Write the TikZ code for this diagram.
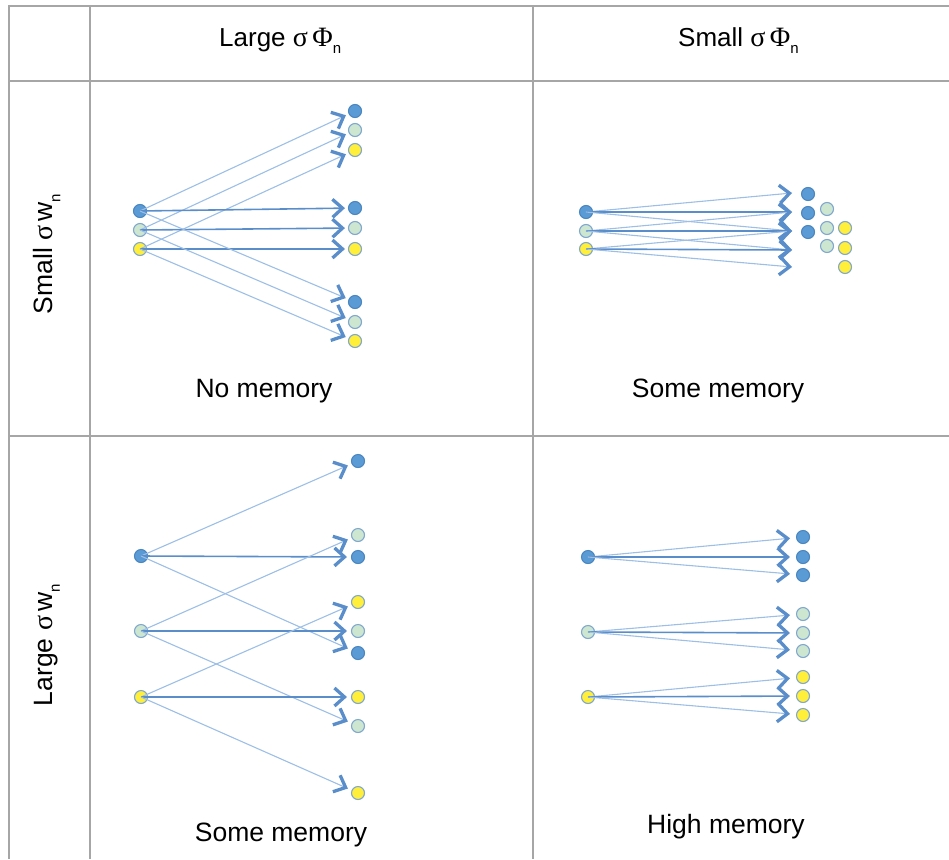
\documentclass[tikz,border=0pt]{standalone}
\usepackage{fontspec}
\setmainfont{Liberation Sans}
\newfontfamily\grk{Liberation Serif}
\usetikzlibrary{arrows.meta}
\definecolor{gridgray}{HTML}{A6A6A6}
\definecolor{dotblue}{HTML}{5B9BD5}
\definecolor{dotedge}{HTML}{4A86C0}
\definecolor{dotgreen}{HTML}{CDE6CF}
\definecolor{dotyellow}{HTML}{FFEE3A}
\definecolor{softedge}{HTML}{7FA7CF}
\definecolor{lineblue}{HTML}{9DBFE6}
\definecolor{arrowblue}{HTML}{5A8ECB}
\newcommand{\sub}[1]{\raisebox{-0.28em}{\fontsize{15}{15}\selectfont #1}}
\tikzset{
  gridline/.style={draw=gridgray, line width=2pt},
  dotbase/.style={circle, minimum size=13pt, inner sep=0pt, line width=1.1pt},
  dotb/.style={dotbase, fill=dotblue, draw=dotedge},
  dotg/.style={dotbase, fill=dotgreen, draw=softedge},
  doty/.style={dotbase, fill=dotyellow, draw=softedge},
  tipstyle/.style={-{Straight Barb[length=10pt,width=18pt,line width=3.3pt 0,color=arrowblue]}},
  diag/.style={tipstyle, draw=lineblue, line width=1.1pt},
  flat/.style={tipstyle, draw=arrowblue, line width=1.6pt},
  lbl/.style={font=\fontsize{26.5}{30}\selectfont, anchor=base, inner sep=0pt},
  hdr/.style={font=\fontsize{26}{30}\selectfont, anchor=base west, inner sep=0pt},
  rowlbl/.style={font=\fontsize{26.5}{30}\selectfont, rotate=90, inner sep=0pt},
}
\begin{document}
\begin{tikzpicture}[x=1pt, y=-1pt]
\useasboundingbox (0,0) rectangle (949,859);
% grid
\draw[gridline] (9,6) -- (949,6);
\draw[gridline] (9,81) -- (949,81);
\draw[gridline] (9,436) -- (949,436);
\draw[gridline] (9,5) -- (9,859);
\draw[gridline] (90,5) -- (90,859);
\draw[gridline] (533,5) -- (533,859);
% headers
\node[hdr] (h1) at (219,46) {Large {\grk\fontsize{28}{30}\selectfont σ}\,{\grk\fontsize{28}{30}\selectfont Φ}\sub{n}};
\node[hdr] (h2) at (678,46) {Small {\grk\fontsize{28}{30}\selectfont σ}\,{\grk\fontsize{28}{30}\selectfont Φ}\sub{n}};
\node[rowlbl] (r1) at (47,254) {Small {\grk\fontsize{28}{30}\selectfont σ}\,w\sub{n}};
\node[rowlbl] (r2) at (47,645) {Large {\grk\fontsize{28}{30}\selectfont σ}\,w\sub{n}};
% labels
\node[lbl] (t1) at (264,397) {No memory};
\node[lbl] (t2) at (718,397) {Some memory};
\node[lbl] (t3) at (281,841) {Some memory};
\node[lbl] (t4) at (726,833) {High memory};

% ---------- top-left ----------
\node[dotb] (A1) at (140,211) {};
\node[dotg] (A2) at (140,230) {};
\node[doty] (A3) at (140,249) {};
\node[dotb] (Ab1) at (355,111) {};
\node[dotg] (Ag1) at (355,130) {};
\node[doty] (Ay1) at (355,150) {};
\node[dotb] (Ab2) at (355,208) {};
\node[dotg] (Ag2) at (355,228) {};
\node[doty] (Ay2) at (355,249) {};
\node[dotb] (Ab3) at (355,302) {};
\node[dotg] (Ag3) at (355,322) {};
\node[doty] (Ay3) at (355,341) {};
\draw[diag, shorten >=3pt] (A1.center) -- (Ab1);
\draw[diag, shorten >=3pt] (A2.center) -- (Ag1);
\draw[diag, shorten >=3pt] (A3.center) -- (Ay1);
\draw[flat, shorten >=3pt] (A1.center) -- (Ab2);
\draw[flat, shorten >=3pt] (A2.center) -- (Ag2);
\draw[flat, shorten >=3pt] (A3.center) -- (Ay2);
\draw[diag, shorten >=3pt] (A1.center) -- (Ab3);
\draw[diag, shorten >=3pt] (A2.center) -- (Ag3);
\draw[diag, shorten >=3pt] (A3.center) -- (Ay3);

% ---------- top-right ----------
\node[dotb] (B1) at (586,212) {};
\node[dotg] (B2) at (586,231) {};
\node[doty] (B3) at (586,249) {};
\coordinate (c1) at (792,193);
\coordinate (c2) at (792,212);
\coordinate (c3) at (792,231);
\coordinate (c4) at (792,250);
\coordinate (c5) at (792,267);
\draw[diag] (B1.center) -- (c1);
\draw[flat] (B1.center) -- (c2);
\draw[diag] (B1.center) -- (c3);
\draw[diag] (B2.center) -- (c2);
\draw[flat] (B2.center) -- (c3);
\draw[diag] (B2.center) -- (c4);
\draw[diag] (B3.center) -- (c3);
\draw[flat] (B3.center) -- (c4);
\draw[diag] (B3.center) -- (c5);
\node[dotb] (Bb1) at (808,194) {};
\node[dotb] (Bb2) at (808,213) {};
\node[dotb] (Bb3) at (808,232) {};
\node[dotg] (Bg1) at (827,209) {};
\node[dotg] (Bg2) at (827,228) {};
\node[dotg] (Bg3) at (827,246) {};
\node[doty] (By1) at (845,228) {};
\node[doty] (By2) at (845,248) {};
\node[doty] (By3) at (845,267) {};

% ---------- bottom-left ----------
\node[dotb] (C1) at (141,556) {};
\node[dotg] (C2) at (141,631) {};
\node[doty] (C3) at (141,697) {};
\node[dotb] (Cb1) at (358,461) {};
\node[dotg] (Cg1) at (358,535) {};
\node[dotb] (Cb2) at (358,557) {};
\node[doty] (Cy1) at (358,602) {};
\node[dotg] (Cg2) at (358,631) {};
\node[dotb] (Cb3) at (358,653) {};
\node[doty] (Cy2) at (358,697) {};
\node[dotg] (Cg3) at (358,726) {};
\node[doty] (Cy3) at (358,793) {};
\draw[diag, shorten >=4pt] (C1.center) -- (Cb1);
\draw[flat, shorten >=4pt] (C1.center) -- (Cb2);
\draw[diag, shorten >=4pt] (C1.center) -- (Cb3);
\draw[diag, shorten >=4pt] (C2.center) -- (Cg1);
\draw[flat, shorten >=4pt] (C2.center) -- (Cg2);
\draw[diag, shorten >=4pt] (C2.center) -- (Cg3);
\draw[diag, shorten >=4pt] (C3.center) -- (Cy1);
\draw[flat, shorten >=4pt] (C3.center) -- (Cy2);
\draw[diag, shorten >=4pt] (C3.center) -- (Cy3);

% ---------- bottom-right ----------
\node[dotb] (D1) at (588,557) {};
\node[dotg] (D2) at (588,632) {};
\node[doty] (D3) at (588,697) {};
\node[dotb] (Db1) at (803,537) {};
\node[dotb] (Db2) at (803,557) {};
\node[dotb] (Db3) at (803,575) {};
\node[dotg] (Dg1) at (803,614) {};
\node[dotg] (Dg2) at (803,633) {};
\node[dotg] (Dg3) at (803,651) {};
\node[doty] (Dy1) at (803,677) {};
\node[doty] (Dy2) at (803,696) {};
\node[doty] (Dy3) at (803,715) {};
\draw[diag, shorten >=6pt] (D1.center) -- (Db1);
\draw[flat, shorten >=6pt] (D1.center) -- (Db2);
\draw[diag, shorten >=6pt] (D1.center) -- (Db3);
\draw[diag, shorten >=6pt] (D2.center) -- (Dg1);
\draw[flat, shorten >=6pt] (D2.center) -- (Dg2);
\draw[diag, shorten >=6pt] (D2.center) -- (Dg3);
\draw[diag, shorten >=6pt] (D3.center) -- (Dy1);
\draw[flat, shorten >=6pt] (D3.center) -- (Dy2);
\draw[diag, shorten >=6pt] (D3.center) -- (Dy3);
\end{tikzpicture}
\end{document}
